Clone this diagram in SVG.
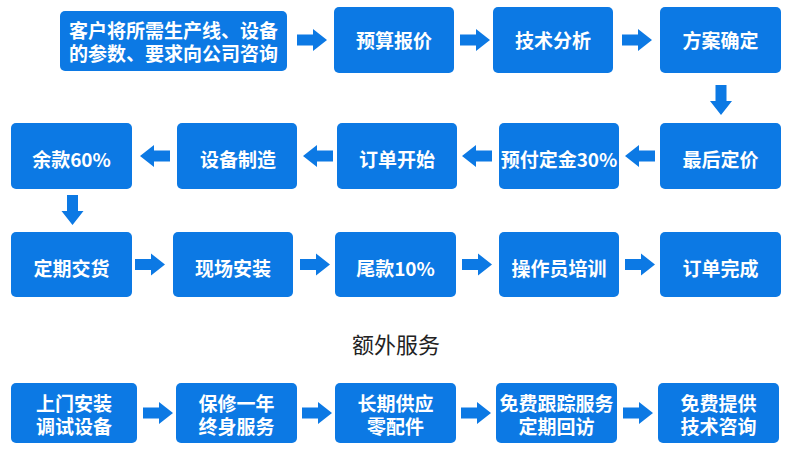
<svg xmlns="http://www.w3.org/2000/svg" width="790" height="468" viewBox="0 0 790 468">
<style>
.box{fill:#0c79e4}
.t{font-family:"Noto Sans CJK SC","Noto Sans",sans-serif;font-weight:bold;font-size:19px;fill:#fff;text-anchor:middle;dominant-baseline:central}
.h{font-family:"Noto Sans CJK SC","Noto Sans",sans-serif;font-size:22px;fill:#222;text-anchor:middle}
.arr{fill:#0c79e4}
</style>
<defs>
<path id="ar" d="M0,-5.5 H16 V-11 L30,0 L16,11 V5.5 H0 Z"/>
</defs>
<rect width="790" height="468" fill="#fff"/>
<g id="n1"><rect class="box" x="60" y="11" width="227" height="60" rx="5"/><text class="t" x="173.5" y="29.5">客户将所需生产线、设备</text><text class="t" x="173.5" y="52">的参数、要求向公司咨询</text></g>
<g id="n2"><rect class="box" x="334" y="7" width="120" height="66" rx="5"/><text class="t" x="394" y="39.5">预算报价</text></g>
<g id="n3"><rect class="box" x="493" y="7" width="120" height="66" rx="5"/><text class="t" x="553" y="39.5">技术分析</text></g>
<g id="n4"><rect class="box" x="660" y="7" width="121" height="66" rx="5"/><text class="t" x="720.5" y="39.5">方案确定</text></g>
<g id="n5"><rect class="box" x="660" y="123" width="121" height="66" rx="5"/><text class="t" x="720.5" y="158.5">最后定价</text></g>
<g id="n6"><rect class="box" x="499" y="123" width="120" height="66" rx="5"/><text class="t" x="559" y="158.5">预付定金30%</text></g>
<g id="n7"><rect class="box" x="337" y="123" width="120" height="66" rx="5"/><text class="t" x="397" y="158.5">订单开始</text></g>
<g id="n8"><rect class="box" x="177" y="123" width="120" height="66" rx="5"/><text class="t" x="238" y="158.5">设备制造</text></g>
<g id="n9"><rect class="box" x="11" y="123" width="121" height="66" rx="5"/><text class="t" x="71.5" y="158.5">余款60%</text></g>
<g id="n10"><rect class="box" x="11" y="232" width="121" height="65" rx="5"/><text class="t" x="71.5" y="267">定期交货</text></g>
<g id="n11"><rect class="box" x="173" y="232" width="120" height="65" rx="5"/><text class="t" x="233" y="267">现场安装</text></g>
<g id="n12"><rect class="box" x="335" y="232" width="121" height="65" rx="5"/><text class="t" x="395.5" y="267">尾款10%</text></g>
<g id="n13"><rect class="box" x="499" y="232" width="120" height="65" rx="5"/><text class="t" x="559" y="267">操作员培训</text></g>
<g id="n14"><rect class="box" x="660" y="232" width="121" height="65" rx="5"/><text class="t" x="720.5" y="267">订单完成</text></g>
<text class="h" x="396" y="353">额外服务</text>
<g id="n15"><rect class="box" x="11" y="383" width="126" height="60" rx="5"/><text class="t" x="74" y="402">上门安装</text><text class="t" x="74" y="425">调试设备</text></g>
<g id="n16"><rect class="box" x="176" y="383" width="121" height="60" rx="5"/><text class="t" x="236.5" y="402">保修一年</text><text class="t" x="236.5" y="425">终身服务</text></g>
<g id="n17"><rect class="box" x="335" y="383" width="121" height="60" rx="5"/><text class="t" x="395.5" y="402">长期供应</text><text class="t" x="395.5" y="425">零配件</text></g>
<g id="n18"><rect class="box" x="496" y="383" width="121" height="60" rx="5"/><text class="t" x="556.5" y="402">免费跟踪服务</text><text class="t" x="556.5" y="425">定期回访</text></g>
<g id="n19"><rect class="box" x="658" y="383" width="121" height="60" rx="5"/><text class="t" x="718.5" y="402">免费提供</text><text class="t" x="718.5" y="425">技术咨询</text></g>
<g id="connectors" class="arr">
<use href="#ar" transform="translate(297,40)"/>
<use href="#ar" transform="translate(460,40)"/>
<use href="#ar" transform="translate(622,40)"/>
<use href="#ar" transform="translate(721,85) rotate(90)"/>
<use href="#ar" transform="translate(655,156) scale(-1,1)"/>
<use href="#ar" transform="translate(492,156) scale(-1,1)"/>
<use href="#ar" transform="translate(333,156) scale(-1,1)"/>
<use href="#ar" transform="translate(170,156) scale(-1,1)"/>
<use href="#ar" transform="translate(72.5,195) rotate(90)"/>
<use href="#ar" transform="translate(135,264.5)"/>
<use href="#ar" transform="translate(300,264.5)"/>
<use href="#ar" transform="translate(462,264.5)"/>
<use href="#ar" transform="translate(625,264.5)"/>
<use href="#ar" transform="translate(143,413)"/>
<use href="#ar" transform="translate(302,413)"/>
<use href="#ar" transform="translate(461,413)"/>
<use href="#ar" transform="translate(623,413)"/>
</g>
</svg>
